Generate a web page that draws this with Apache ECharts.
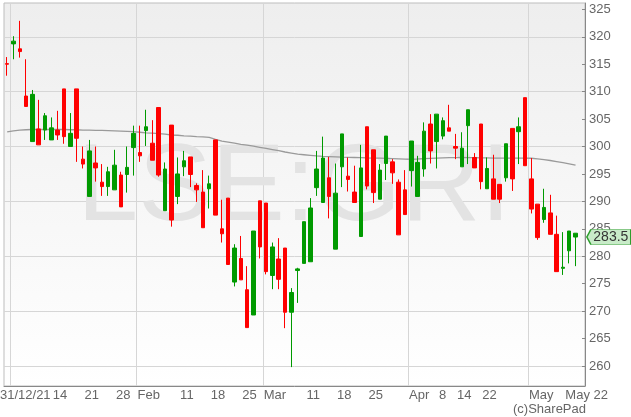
<!DOCTYPE html>
<html>
<head>
<meta charset="utf-8">
<title>LSE:GRI</title>
<script src="https://cdn.jsdelivr.net/npm/echarts@6/dist/echarts.min.js"></script>
<style>
  html, body { margin: 0; padding: 0; background: #fff; }
  #chart { width: 631px; height: 417px; }
</style>
</head>
<body>
<div id="chart"></div>
<script>
// trading days; the last one is an empty slot at the right edge
var dates = [
  '2021-12-31',
  '2022-01-04', '2022-01-05', '2022-01-06', '2022-01-07',
  '2022-01-10', '2022-01-11', '2022-01-12', '2022-01-13', '2022-01-14',
  '2022-01-17', '2022-01-18', '2022-01-19', '2022-01-20', '2022-01-21',
  '2022-01-24', '2022-01-25', '2022-01-26', '2022-01-27', '2022-01-28',
  '2022-01-31',
  '2022-02-01', '2022-02-02', '2022-02-03', '2022-02-04',
  '2022-02-07', '2022-02-08', '2022-02-09', '2022-02-10', '2022-02-11',
  '2022-02-14', '2022-02-15', '2022-02-16', '2022-02-17', '2022-02-18',
  '2022-02-21', '2022-02-22', '2022-02-23', '2022-02-24', '2022-02-25',
  '2022-02-28',
  '2022-03-01', '2022-03-02', '2022-03-03', '2022-03-04',
  '2022-03-07', '2022-03-08', '2022-03-09', '2022-03-10', '2022-03-11',
  '2022-03-14', '2022-03-15', '2022-03-16', '2022-03-17', '2022-03-18',
  '2022-03-21', '2022-03-22', '2022-03-23', '2022-03-24', '2022-03-25',
  '2022-03-28', '2022-03-29', '2022-03-30', '2022-03-31',
  '2022-04-01',
  '2022-04-04', '2022-04-05', '2022-04-06', '2022-04-07', '2022-04-08',
  '2022-04-11', '2022-04-12', '2022-04-13', '2022-04-14',
  '2022-04-19', '2022-04-20', '2022-04-21', '2022-04-22',
  '2022-04-25', '2022-04-26', '2022-04-27', '2022-04-28', '2022-04-29',
  '2022-05-03', '2022-05-04', '2022-05-05', '2022-05-06',
  '2022-05-09', '2022-05-10', '2022-05-11', '2022-05-12', '2022-05-13'
];

// [open, close, low, high]
var ohlc = [
  [315.1, 315.0, 312.9, 316.3],
  [318.7, 319.2, 315.9, 320.1], [317.8, 317.3, 316.2, 322.9], [309.2, 307.3, 307.3, 315.9], [300.9, 309.5, 300.9, 310.3],
  [303.2, 300.3, 300.3, 308.5], [303.0, 305.6, 301.2, 306.1], [301.2, 303.4, 301.2, 305.3], [303.0, 302.1, 301.2, 306.5], [310.5, 301.8, 300.5, 310.5],
  [300.0, 302.4, 300.0, 306.1], [310.5, 301.5, 297.2, 310.5], [297.7, 296.8, 296.0, 300.0], [290.9, 299.2, 290.9, 301.2], [297.0, 296.1, 293.6, 300.0],
  [293.5, 292.7, 291.0, 296.8], [292.7, 295.4, 291.0, 296.3], [292.1, 296.6, 292.1, 299.4], [294.8, 289.0, 289.0, 295.4], [294.9, 296.2, 291.6, 300.0],
  [299.8, 302.4, 294.7, 303.8],
  [298.9, 298.3, 297.2, 303.8], [302.9, 303.6, 300.1, 306.7], [300.6, 297.5, 297.5, 304.8], [307.1, 294.8, 294.5, 307.1],
  [288.3, 295.9, 288.3, 297.1], [303.9, 286.6, 285.4, 303.9], [290.9, 295.0, 289.5, 298.0], [296.3, 297.4, 294.6, 299.2], [298.1, 294.9, 292.6, 298.1],
  [292.9, 292.1, 289.9, 293.3], [291.7, 285.2, 285.2, 295.7], [292.3, 293.2, 288.7, 294.7], [301.2, 287.5, 287.5, 301.2], [285.0, 284.1, 282.5, 290.3],
  [290.6, 278.5, 278.5, 290.6], [275.3, 281.5, 274.5, 282.2], [279.6, 275.7, 275.7, 283.7], [273.9, 267.0, 267.0, 278.2], [269.3, 284.6, 269.3, 284.6],
  [290.1, 281.7, 279.6, 290.1],
  [289.7, 277.2, 276.7, 289.7], [276.5, 281.7, 274.0, 282.5], [279.5, 275.8, 274.0, 283.3], [281.5, 269.8, 266.9, 281.5],
  [269.8, 273.4, 259.8, 274.2], [277.4, 277.7, 271.5, 277.9], [278.7, 286.3, 278.7, 286.3], [279.0, 288.8, 279.0, 290.6], [292.5, 295.9, 291.0, 299.2],
  [289.8, 297.9, 289.8, 301.8], [294.3, 290.9, 286.9, 298.1], [281.3, 291.5, 281.3, 296.9], [296.3, 302.3, 292.6, 302.3], [294.6, 294.0, 291.8, 298.0],
  [291.7, 289.8, 289.8, 296.5], [283.6, 296.1, 283.6, 300.3], [303.6, 292.8, 292.2, 303.6], [299.4, 291.6, 289.7, 299.4], [290.4, 295.7, 290.4, 296.8],
  [296.9, 301.9, 293.9, 301.9], [297.2, 295.2, 293.2, 297.7], [293.5, 283.9, 283.9, 294.0], [292.1, 287.6, 287.6, 295.7],
  [295.6, 301.0, 292.7, 301.0],
  [290.9, 297.1, 290.9, 298.3], [295.9, 302.8, 294.5, 304.4], [304.1, 299.2, 296.9, 305.9], [300.9, 305.9, 296.0, 305.9], [301.9, 304.7, 301.3, 305.3],
  [303.4, 302.8, 302.8, 307.6], [300.0, 299.7, 297.7, 302.3], [296.3, 299.7, 296.3, 302.6], [303.8, 306.7, 296.8, 306.7],
  [298.0, 296.1, 296.1, 298.8], [304.1, 293.6, 292.2, 304.1], [292.3, 296.0, 292.3, 298.0], [294.1, 290.4, 290.4, 298.5],
  [293.1, 290.4, 289.7, 293.1], [294.3, 300.5, 293.6, 300.5], [303.3, 294.1, 291.9, 303.3], [302.7, 303.6, 296.8, 305.3], [308.9, 296.5, 296.5, 308.9],
  [294.1, 288.6, 287.8, 297.9], [289.5, 283.4, 283.0, 289.5], [286.7, 288.9, 286.1, 292.3], [287.9, 284.0, 284.0, 291.2],
  [284.0, 277.2, 277.2, 287.4], [277.8, 278.0, 276.6, 284.4], [281.0, 284.6, 278.7, 284.6], [283.5, 284.2, 278.2, 284.2]
];

// long moving average (grey line)
var avg = [
  302.65, 302.85, 303.0, 303.05, 303.1, 303.1, 303.1, 303.1, 303.1, 303.1,
  303.05, 303.05, 303.0, 303.0, 302.95, 302.95, 302.9, 302.85, 302.8, 302.75,
  302.7, 302.6, 302.5, 302.45, 302.35, 302.25, 302.1, 302.05, 301.95, 301.9,
  301.8, 301.75, 301.65, 301.3, 301.0, 300.8, 300.6, 300.4, 300.25, 300.05,
  299.85, 299.65, 299.45, 299.25, 299.0, 298.8, 298.6, 298.5, 298.4, 298.3,
  298.22, 298.17, 298.12, 298.07, 298.03, 298.0, 297.97, 297.93, 297.9, 297.87,
  297.83, 297.79, 297.75, 297.71, 297.68, 297.72, 297.78, 297.84, 297.9, 297.93,
  297.96, 297.98, 298.0, 297.98, 297.96, 297.94, 297.92, 297.9, 297.88, 297.87,
  297.87, 297.87, 297.87, 297.86, 297.75, 297.6, 297.45, 297.25, 297.05, 296.85,
  296.6
];

var yTicks = [260, 265, 270, 275, 280, 285, 290, 295, 300, 305, 310, 315, 320, 325];
var yGrid = [260, 270, 280, 290, 300, 310, 320];
// weeks whose last day gets a day-number label
var dayLabelDates = ['2022-01-14', '2022-01-21', '2022-01-28', '2022-02-11', '2022-02-18', '2022-02-25',
  '2022-03-11', '2022-03-18', '2022-03-25', '2022-04-08', '2022-04-14', '2022-04-22'];
var monthStarts = ['2022-02-01', '2022-03-01', '2022-04-01', '2022-05-03'];
var monthNames = ['Feb', 'Mar', 'Apr', 'May'];
var edgeLabels = ['31/12/21', 'May 22'];
var lastPrice = 283.5;
var ticker = 'LSE:GRI';

var UP = '#009a00', DOWN = '#ff0000';
var FONT = '"Liberation Sans", Arial, sans-serif';

var idx = {};
dates.forEach(function (d, i) { idx[d] = i; });
function dow(d) { return new Date(d + 'T00:00:00Z').getUTCDay(); }

// ticks sit on the boundary before category i (new week or new month)
var tickAt = {};
for (var i = 1; i < dates.length; i++) {
  if (dow(dates[i]) <= dow(dates[i - 1]) || dates[i].slice(5, 7) !== dates[i - 1].slice(5, 7)) tickAt[i] = true;
}
var gridAt = {};
gridAt[1] = true;
monthStarts.forEach(function (d) { gridAt[idx[d]] = true; });

// day labels end at the tick after their day, month labels start at the month boundary
var dayLabelAt = {};
dayLabelDates.forEach(function (d) { dayLabelAt[idx[d] + 1] = String(+d.slice(8)); });
var monthLabelAt = {};
monthStarts.forEach(function (d, k) { monthLabelAt[idx[d] - 1] = monthNames[k]; });

var chart = echarts.init(document.getElementById('chart'), null, { renderer: 'canvas' });

var option = {
  animation: false,
  backgroundColor: '#ffffff',
  grid: {
    left: 4, right: 46, top: 3, bottom: 31,
    show: true,
    borderColor: '#bdbdbd',
    borderWidth: 1,
    backgroundColor: {
      type: 'linear', x: 0, y: 0, x2: 0, y2: 1,
      colorStops: [{ offset: 0, color: '#eeeeee' }, { offset: 1, color: '#ffffff' }]
    }
  },
  xAxis: [{
    type: 'category',
    data: dates,
    position: 'bottom',
    boundaryGap: true,
    axisLine: { lineStyle: { color: '#888' } },
    axisTick: {
      inside: true, length: 3,
      lineStyle: { color: '#888' },
      interval: function (i) { return !!tickAt[i]; }
    },
    splitLine: {
      show: true,
      interval: function (i) { return !!gridAt[i]; },
      lineStyle: { color: '#d6d6d6' }
    },
    axisLabel: {
      interval: function (i) { return dayLabelAt[i] != null; },
      formatter: function (v) { return dayLabelAt[idx[v]] || ''; },
      align: 'right',
      padding: [0, 3, 0, 0],
      margin: 3,
      color: '#666',
      fontSize: 13,
      fontFamily: FONT
    }
  }, {
    type: 'category',
    data: dates,
    position: 'bottom',
    boundaryGap: true,
    axisLine: { show: false },
    axisTick: {
      inside: true, length: 8,
      lineStyle: { color: '#888' },
      interval: function (i) { return !!gridAt[i]; }
    },
    splitLine: { show: false },
    axisLabel: {
      interval: function (i) { return monthLabelAt[i] != null; },
      formatter: function (v) { return monthLabelAt[idx[v]] || ''; },
      align: 'left',
      padding: [0, 0, 0, 4],
      margin: 3,
      color: '#666',
      fontSize: 13,
      fontFamily: FONT
    }
  }],
  yAxis: [{
    type: 'value',
    position: 'right',
    min: 256.36,
    max: 326.15,
    axisLine: { show: true, lineStyle: { color: '#888' } },
    axisTick: { show: true, inside: true, length: 3, customValues: yTicks, lineStyle: { color: '#888' } },
    axisLabel: { customValues: yTicks, color: '#666', fontSize: 13, fontFamily: FONT, margin: 4 },
    splitLine: { show: false }
  }, {
    type: 'value',
    position: 'right',
    min: 256.36,
    max: 326.15,
    axisLine: { show: false },
    axisTick: { show: false, customValues: yGrid },
    axisLabel: { show: false },
    splitLine: { show: true, lineStyle: { color: '#d6d6d6' } }
  }],
  graphic: [{
    type: 'text', silent: true, z: 1,
    style: { text: ticker, x: 294, y: 190, align: 'center', verticalAlign: 'middle',
      font: '110px ' + FONT, fill: '#e3e3e3' }
  }, {
    type: 'text', silent: true,
    style: { text: edgeLabels[0], x: 0, y: 389, align: 'left', verticalAlign: 'top',
      font: '13px ' + FONT, fill: '#666' }
  }, {
    type: 'text', silent: true,
    style: { text: edgeLabels[1], x: 608, y: 389, align: 'right', verticalAlign: 'top',
      font: '13px ' + FONT, fill: '#666' }
  }, {
    type: 'text', silent: true,
    style: { text: '(c)SharePad', x: 586, y: 403, align: 'right', verticalAlign: 'top',
      font: '13px ' + FONT, fill: '#666' }
  }],
  series: [{
    type: 'line',
    data: avg,
    xAxisIndex: 0,
    yAxisIndex: 0,
    symbol: 'none',
    silent: true,
    z: 2,
    lineStyle: { color: '#9a9a9a', width: 1.3 }
  }, {
    type: 'candlestick',
    data: ohlc,
    xAxisIndex: 0,
    yAxisIndex: 0,
    barWidth: 4,
    z: 3,
    itemStyle: {
      color: UP, color0: DOWN,
      borderColor: UP, borderColor0: DOWN,
      borderWidth: 1
    },
    markPoint: {
      silent: true,
      symbol: 'path://M0,7.5 L4,0 L44,0 L44,15 L4,15 Z',
      symbolSize: [44, 15],
      symbolKeepAspect: false,
      symbolOffset: [27, 0],
      itemStyle: { color: '#c8ebc8', borderColor: '#2e9e2e', borderWidth: 1 },
      label: {
        show: true, position: 'inside', offset: [2, 0],
        color: '#333', fontSize: 14, fontFamily: FONT,
        formatter: function () { return lastPrice.toFixed(1); }
      },
      data: [{ coord: [dates[dates.length - 1], lastPrice], value: lastPrice }]
    }
  }]
};

chart.setOption(option);
</script>
</body>
</html>
